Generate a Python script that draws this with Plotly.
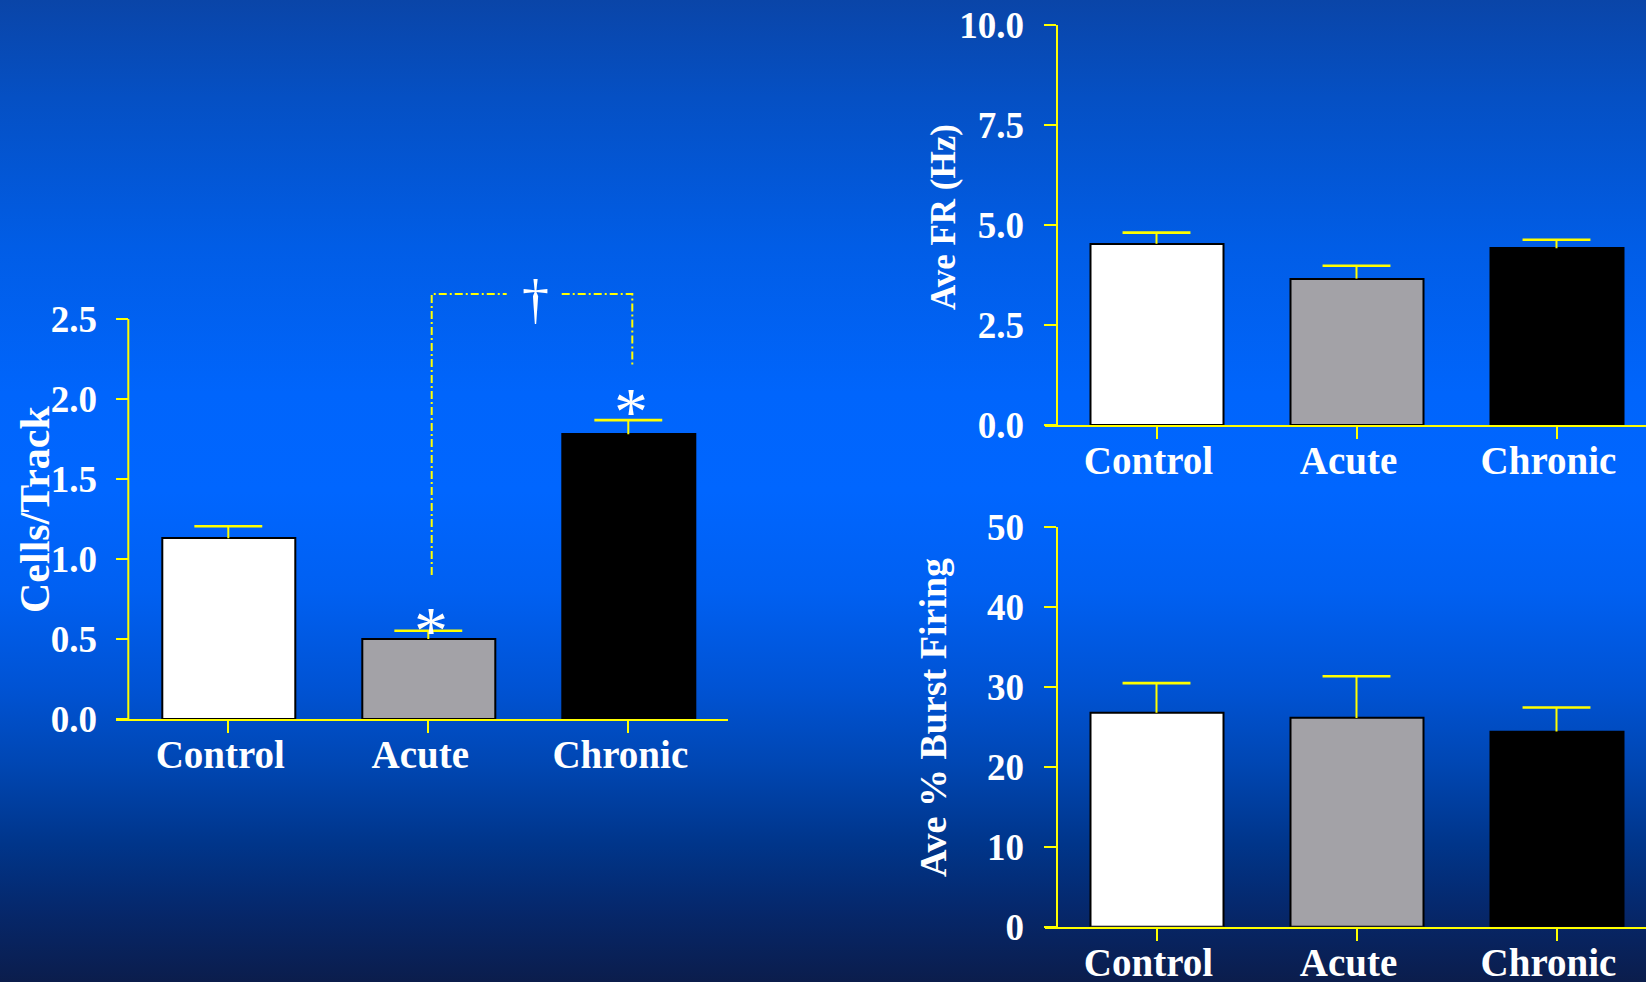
import base64
import plotly.graph_objects as go

# ---------------- data ----------------
categories = ["Control", "Acute", "Chronic"]

cells_mean = [1.13, 0.50, 1.78]
cells_err = [0.075, 0.052, 0.088]

fr_mean = [4.53, 3.66, 4.42]
fr_err = [0.28, 0.32, 0.21]

burst_mean = [26.75, 26.1, 24.4]
burst_err = [3.7, 5.2, 3.0]

cells_ticks = [0.0, 0.5, 1.0, 1.5, 2.0, 2.5]
fr_ticks = [0.0, 2.5, 5.0, 7.5, 10.0]
burst_ticks = [0, 10, 20, 30, 40, 50]

# significance markers (left panel)
star_x = [1, 2]
star_y = [0.62, 1.99]
bracket_left_x = [1.017, 1.017, 1.392]
bracket_left_y = [0.90, 2.656, 2.656]
bracket_right_x = [1.667, 2.02, 2.02]
bracket_right_y = [2.656, 2.656, 2.20]
dagger_x, dagger_y = 1.537, 2.60

# ---------------- style ----------------
W, H = 1646, 982
YEL = "#ffff00"
WHITE = "#ffffff"
bar_colors = ["#ffffff", "#a3a2a7", "#000000"]
FONT = "Liberation Serif"
xpos = [0, 1, 2]

stops = [
    (0.00, "#0a45a8"), (0.10, "#0550c4"), (0.25, "#015de6"), (0.40, "#0065fc"),
    (0.50, "#0066ff"), (0.60, "#0060f2"), (0.70, "#0053d4"), (0.78, "#0046b2"),
    (0.86, "#00358a"), (0.93, "#06276a"), (1.00, "#0b1d4c"),
]
stop_xml = "".join(f'<stop offset="{o}" stop-color="{c}"/>' for o, c in stops)
svg = (f'<svg xmlns="http://www.w3.org/2000/svg" width="{W}" height="{H}" preserveAspectRatio="none">'
       f'<defs><linearGradient id="g" x1="0" y1="0" x2="0" y2="1">{stop_xml}</linearGradient></defs>'
       f'<rect width="{W}" height="{H}" fill="url(#g)"/></svg>')
bg_src = "data:image/svg+xml;base64," + base64.b64encode(svg.encode()).decode()


def bar_traces(means, errs, xa, ya):
    bars = go.Bar(
        x=xpos, y=means, width=0.665, xaxis=xa, yaxis=ya,
        marker=dict(color=bar_colors, line=dict(color="#000000", width=2)),
        error_y=dict(type="data", symmetric=False, array=errs, arrayminus=[0, 0, 0],
                     color=YEL, thickness=2, width=0),
        showlegend=False, hoverinfo="skip",
    )
    caps = go.Scatter(
        x=xpos, y=[m + e for m, e in zip(means, errs)], xaxis=xa, yaxis=ya, mode="markers",
        marker=dict(symbol="line-ew", size=48.5, color=YEL, line=dict(color=YEL, width=2.6)),
        showlegend=False, hoverinfo="skip", cliponaxis=False,
    )
    return [bars, caps]


fig = go.Figure()
for t in bar_traces(cells_mean, cells_err, "x", "y"):
    fig.add_trace(t)
for t in bar_traces(fr_mean, fr_err, "x2", "y2"):
    fig.add_trace(t)
for t in bar_traces(burst_mean, burst_err, "x3", "y3"):
    fig.add_trace(t)

for bx, by in [(bracket_left_x, bracket_left_y), (bracket_right_x, bracket_right_y)]:
    fig.add_trace(go.Scatter(x=bx, y=by, mode="lines", xaxis="x", yaxis="y",
                             line=dict(color=YEL, width=2, dash="8px,3px,2px,3px"),
                             showlegend=False, hoverinfo="skip"))

tickfont = dict(family=FONT, size=37, color=WHITE, weight="bold")
catfont = dict(family=FONT, size=39, color=WHITE, weight="bold")


def xaxis(domain, rng, anchor):
    return dict(domain=domain, range=rng, anchor=anchor, tickmode="array", tickvals=xpos,
                ticktext=categories, ticks="outside", ticklen=12, tickwidth=2, tickcolor=YEL,
                showline=True, linecolor=YEL, linewidth=2, showgrid=False, zeroline=False,
                tickfont=catfont, ticklabelshift=-8, ticklabelstandoff=-12,
                automargin=False, fixedrange=True)


def yaxis(domain, rng, tv, fmt, pos, showline):
    return dict(domain=domain, range=rng, anchor="free", position=pos, tickmode="array",
                tickvals=tv, ticktext=[fmt.format(v) for v in tv], ticks="outside", ticklen=12,
                tickwidth=2, tickcolor=YEL, showline=showline, linecolor=YEL, linewidth=2,
                showgrid=False, zeroline=False, tickfont=tickfont, ticklabelstandoff=12,
                automargin=False, fixedrange=True)


xl = [116.3 / W, 728.3 / W]
xr = [1044.5 / W, 1.0]
fig.update_layout(
    width=W, height=H, margin=dict(l=0, r=0, t=0, b=0, pad=0, autoexpand=False),
    paper_bgcolor="#0058e0", plot_bgcolor="rgba(0,0,0,0)",
    bargap=0, showlegend=False,
    xaxis=xaxis(xl, [-0.56, 2.5], "y"),
    yaxis=yaxis([(H - 719) / H, (H - 271) / H], [0, 2.8], cells_ticks, "{:.1f}", 128.3 / W, False),
    xaxis2=xaxis(xr, [-0.56, 2.4475], "y2"),
    yaxis2=yaxis([(H - 425) / H, (H - 25) / H], [0, 10], fr_ticks, "{:.1f}", 1056.5 / W, True),
    xaxis3=xaxis(xr, [-0.56, 2.4475], "y3"),
    yaxis3=yaxis([(H - 926.7) / H, (H - 526.7) / H], [0, 50], burst_ticks, "{:.0f}", 1056.5 / W, True),
    images=[dict(source=bg_src, xref="paper", yref="paper", x=0, y=1, sizex=1, sizey=1,
                 xanchor="left", yanchor="top", sizing="stretch", layer="below")],
)

# left y axis line (stops at 2.5)
fig.add_shape(type="line", xref="x", yref="y", x0=-0.5, x1=-0.5, y0=0, y1=cells_ticks[-1],
              line=dict(color=YEL, width=2), layer="above")

# axis titles
titlefont = dict(family=FONT, color=WHITE, weight="bold")
fig.add_annotation(text="Cells/Track", xref="paper", yref="paper", x=35 / W, y=(H - 509) / H,
                   textangle=-90, showarrow=False, xanchor="center", yanchor="middle",
                   font=dict(size=42, **titlefont))
fig.add_annotation(text="Ave FR (Hz)", xref="paper", yref="paper", x=943 / W, y=(H - 217) / H,
                   textangle=-90, showarrow=False, xanchor="center", yanchor="middle",
                   font=dict(size=35, **titlefont))
fig.add_annotation(text="Ave % Burst Firing", xref="paper", yref="paper", x=933 / W, y=(H - 718) / H,
                   textangle=-90, showarrow=False, xanchor="center", yanchor="middle",
                   font=dict(size=38, **titlefont))

# significance symbols
for sx, sy in zip(star_x, star_y):
    fig.add_annotation(text="*", x=sx + 0.015, y=sy, xref="x", yref="y", showarrow=False,
                       yanchor="middle", yshift=-10, font=dict(family=FONT, size=68, color=WHITE))
fig.add_annotation(text="†", x=dagger_x, y=dagger_y, xref="x", yref="y", showarrow=False,
                   yanchor="middle", yshift=3, font=dict(family=FONT, size=54, color=WHITE))

fig.write_html("out.html")
